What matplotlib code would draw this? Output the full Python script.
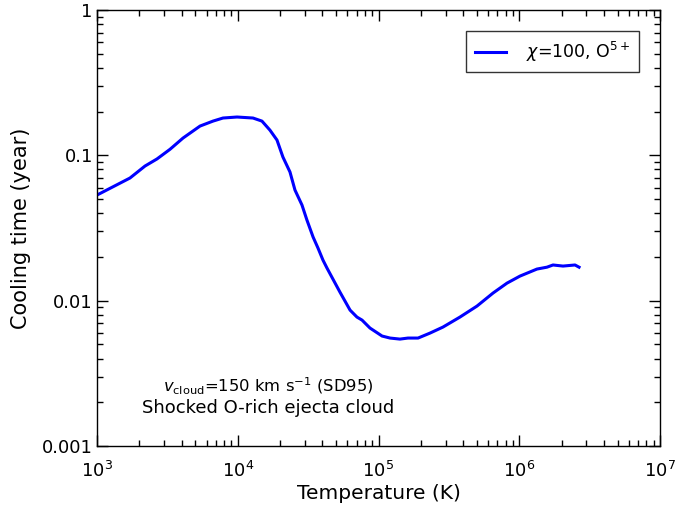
import matplotlib
matplotlib.use("Agg")
import matplotlib.pyplot as plt
from matplotlib.ticker import LogLocator, FixedLocator, FixedFormatter, NullFormatter

temperature = [1000, 1715, 2193, 2667, 3300, 4085, 5395, 6670, 7855, 9880, 12830, 14860,
               16940, 19000, 20940, 23500, 25500, 28600, 31000, 34300, 37170, 40330, 43000,
               53200, 62800, 70300,
               76400, 87000, 106000, 120800, 142000, 162000, 191000, 232000, 287000, 379000,
               501000, 651000, 818000, 1.012e6, 1.336e6, 1.574e6, 1.737e6, 2.046e6, 2.49e6, 2.66e6]
cooling_time = [0.0533, 0.0698, 0.0844, 0.0944, 0.110, 0.1315, 0.159, 0.172, 0.1806, 0.1835,
                0.1806, 0.172, 0.149, 0.1274, 0.0973, 0.0768, 0.0577, 0.0455, 0.0359, 0.0274,
                0.0230, 0.0190, 0.0168,
                0.01146, 0.00861, 0.00771, 0.00735, 0.00648, 0.00571, 0.00553, 0.00544, 0.00553,
                0.00553, 0.00598, 0.00658, 0.00771, 0.00918, 0.01128, 0.0132, 0.01476, 0.0165,
                0.0170, 0.0176, 0.0173, 0.0176, 0.0170]
series_label = r"$\chi$=100, O$^{5+}$"
y_ticks = [0.001, 0.01, 0.1, 1]
y_ticklabels = ["0.001", "0.01", "0.1", "1"]
annotation_lines = [r"$v_{\rm cloud}$=150 km s$^{-1}$ (SD95)", "Shocked O-rich ejecta cloud"]

plt.rcParams['mathtext.fontset'] = 'dejavusans'
plt.rcParams['font.family'] = ['DejaVu Sans']

fig = plt.figure(figsize=(6.97, 5.09), dpi=100)
ax = fig.add_axes([97/697, 1-446/509, (660-97)/697, (446-10)/509])
ax.plot(temperature, cooling_time, color='blue', lw=2.2, label=series_label)
ax.set_xscale('log')
ax.set_yscale('log')
ax.set_xlim(1e3, 1e7)
ax.set_ylim(1e-3, 1)
ax.yaxis.set_major_locator(FixedLocator(y_ticks))
ax.yaxis.set_major_formatter(FixedFormatter(y_ticklabels))
ax.yaxis.set_minor_locator(LogLocator(base=10, subs=range(2, 10)))
ax.yaxis.set_minor_formatter(NullFormatter())
ax.tick_params(which='both', direction='in', top=True, right=True, labelsize=13)
ax.tick_params(axis='x', which='major', pad=11)
ax.tick_params(axis='y', which='major', pad=3)
ax.tick_params(which='major', length=8, width=1)
ax.tick_params(which='minor', length=4, width=1)
for s in ax.spines.values():
    s.set_linewidth(1)
ax.set_xlabel("Temperature (K)", fontsize=14.5, labelpad=2)
ax.set_ylabel("Cooling time (year)", fontsize=15, labelpad=8)
leg = ax.legend(loc='upper right', fontsize=12.5, fancybox=False, frameon=True,
                borderpad=0.5, handlelength=1.8, handletextpad=1.15, borderaxespad=1.2)
leg.get_frame().set_edgecolor('black')
leg.get_frame().set_linewidth(1)
ax.text(0.304, 0.124, annotation_lines[0], transform=ax.transAxes, fontsize=11.8,
        ha='center', va='baseline')
ax.text(0.304, 0.0757, annotation_lines[1], transform=ax.transAxes, fontsize=13,
        ha='center', va='baseline')
fig.savefig("out.png", dpi=100, facecolor='white')
